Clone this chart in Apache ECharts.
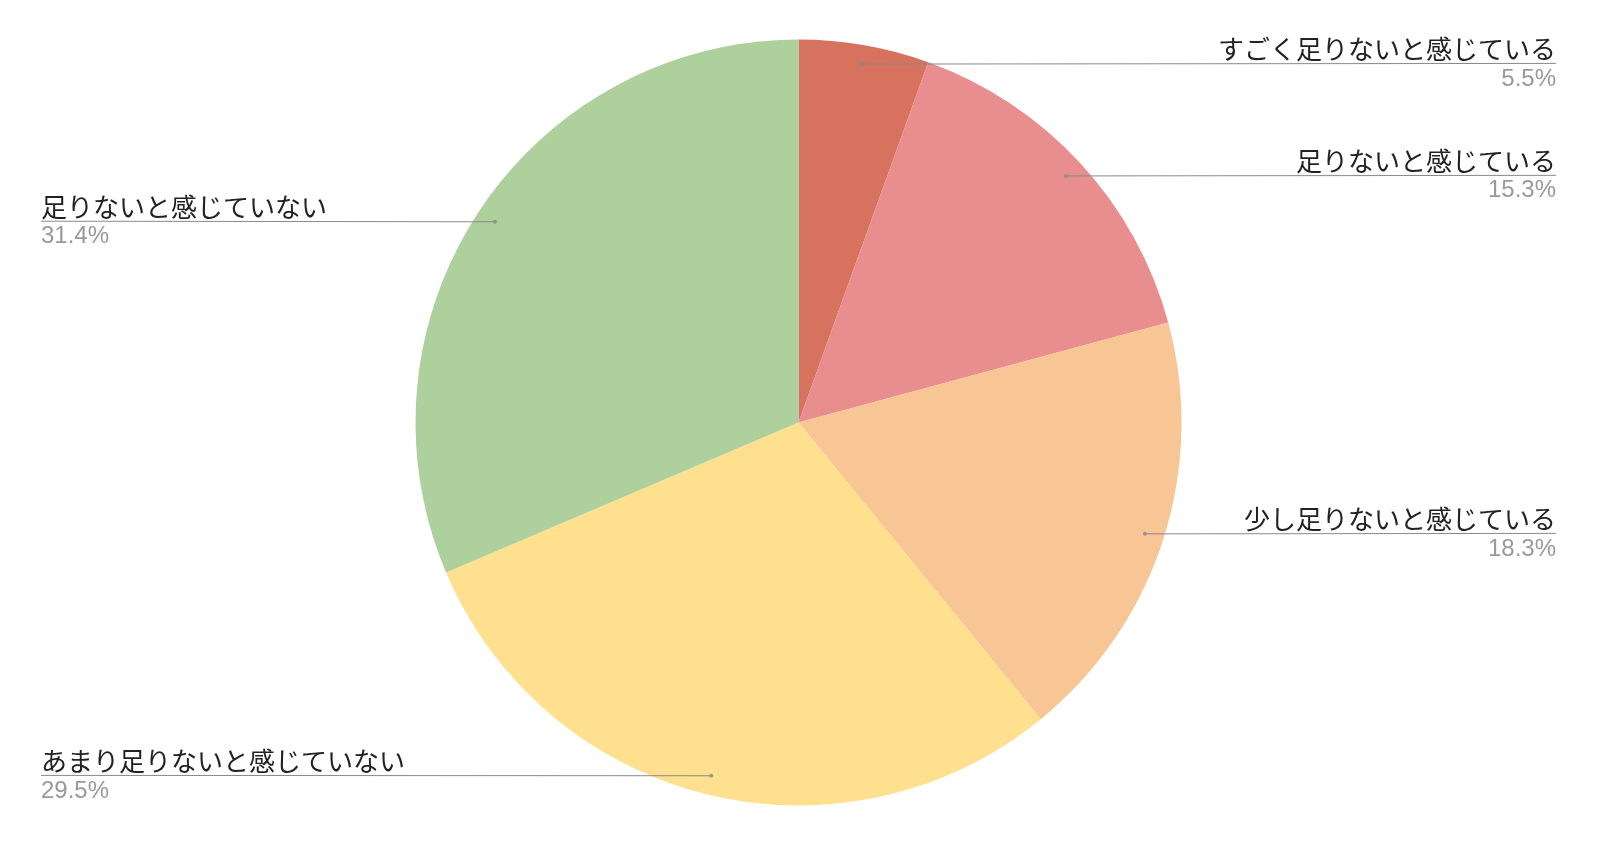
<!DOCTYPE html>
<html>
<head>
<meta charset="utf-8">
<style>html,body{margin:0;padding:0;background:#fff;}#c{width:1597px;height:845px;}</style>
<script src="https://cdn.jsdelivr.net/npm/echarts@6/dist/echarts.min.js"></script>
</head>
<body>
<div id="c"></div>
<script>
const categories = ['すごく足りないと感じている','足りないと感じている','少し足りないと感じている','あまり足りないと感じていない','足りないと感じていない'];
const values = [5.5, 15.3, 18.3, 29.5, 31.4];
const colors = ['#D7725E','#E88E8E','#F8C594','#FEE08E','#AED09D'];

const R = 383;
const DOT_R = 0.95;
const chart = echarts.init(document.getElementById('c'));
const total = values.reduce((a,b)=>a+b,0);
let cum = 0;
const mids = values.map(v => { const mid = cum + v/2; cum += v; return mid/total; });
const dots = mids.map(m => [DOT_R, m*100]);

const pieBase = {
  type: 'pie',
  center: ['50%','50%'],
  radius: R,
  startAngle: 90,
  clockwise: true,
  emphasis: { disabled: true },
  silent: true
};

chart.setOption({
  backgroundColor: '#ffffff',
  animation: false,
  polar: { center: ['50%','50%'], radius: R },
  angleAxis: { type: 'value', min: 0, max: 100, startAngle: 90, clockwise: true, show: false },
  radiusAxis: { type: 'value', min: 0, max: 1, show: false },
  series: [Object.assign({}, pieBase, {
    data: categories.map((n,i)=>({ name: n, value: values[i], itemStyle: { color: colors[i] } })),
    label: { show: false },
    labelLine: { show: false },
    z: 1
  }), Object.assign({}, pieBase, {
    avoidLabelOverlap: true,
    data: categories.map((n,i)=>({ name: n, value: values[i], itemStyle: { color: 'rgba(0,0,0,0)' } })),
    label: {
      position: 'outside',
      alignTo: 'edge',
      edgeDistance: 41,
      formatter: p => '{name|' + p.name + '}\n{per|' + p.value.toFixed(1) + '%}',
      rich: {
        name: { fontFamily: '"Noto Sans CJK JP", sans-serif', fontSize: 26, color: '#222222', lineHeight: 30 },
        per: { fontFamily: '"Liberation Sans", Arial, sans-serif', fontSize: 24, color: '#999999', lineHeight: 30 }
      }
    },
    labelLine: { show: true, length: -19, length2: 0, lineStyle: { color: '#8a8a8a', width: 1 } },
    labelLayout: function (params) {
      const rect = params.labelRect;
      const isLeft = rect.x < chart.getWidth() / 2;
      const cx = chart.getWidth() / 2, cy = chart.getHeight() / 2;
      const a = mids[params.dataIndex] * 2 * Math.PI;
      const px = cx + Math.sin(a) * R * DOT_R;
      const py = cy - Math.cos(a) * R * DOT_R;
      const ly = rect.y + rect.height / 2;
      const endX = isLeft ? rect.x : rect.x + rect.width;
      return { labelLinePoints: [[px, py], [px, py], [endX, ly]] };
    },
    z: 3
  }), {
    type: 'scatter',
    coordinateSystem: 'polar',
    data: dots,
    symbolSize: 4,
    itemStyle: { color: '#8a8a8a' },
    silent: true,
    z: 5
  }]
});
</script>
</body>
</html>
